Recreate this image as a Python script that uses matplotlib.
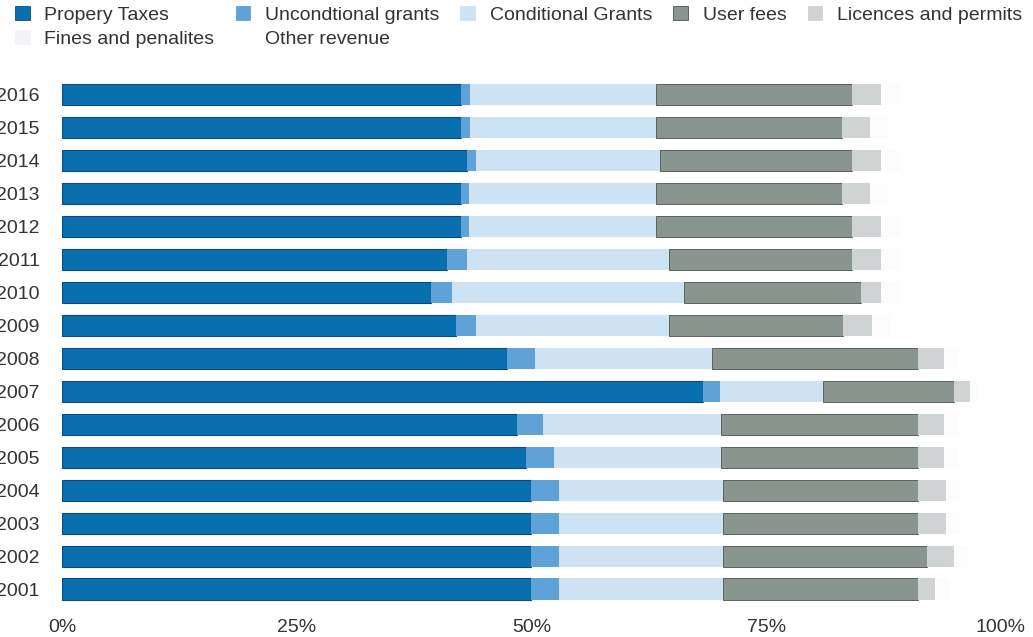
import matplotlib
matplotlib.use("Agg")
import matplotlib.pyplot as plt
from matplotlib.patches import Patch
import numpy as np

plt.rcParams["font.family"] = ["Liberation Sans", "DejaVu Sans"]

YEARS = ["2001", "2002", "2003", "2004", "2005", "2006", "2007", "2008",
         "2009", "2010", "2011", "2012", "2013", "2014", "2015", "2016"]

# revenue shares in percent, one value per year (2001 -> 2016)
PROPERTY_TAXES = [49.9, 49.9, 49.9, 49.9, 49.4, 48.5, 68.3, 47.4,
                  42.0, 39.3, 41.0, 42.5, 42.5, 43.1, 42.5, 42.5]
UNCONDITIONAL = [3.0, 3.0, 3.0, 3.0, 3.0, 2.7, 1.8, 3.0,
                 2.1, 2.2, 2.1, 0.8, 0.8, 1.0, 0.9, 1.0]
CONDITIONAL = [17.5, 17.5, 17.5, 17.5, 17.8, 19.0, 10.9, 18.8,
               20.5, 24.7, 21.5, 20.0, 20.0, 19.6, 19.9, 19.8]
USER_FEES = [20.8, 21.7, 20.8, 20.8, 21.0, 21.0, 14.0, 22.0,
             18.6, 18.9, 19.5, 20.8, 19.8, 20.4, 19.8, 20.8]
LICENCES = [1.8, 2.9, 2.9, 2.9, 2.7, 2.7, 1.7, 2.7,
            3.1, 2.1, 3.1, 3.1, 2.9, 3.1, 2.9, 3.1]
FINES = [1.5, 1.5, 1.5, 1.5, 1.5, 1.5, 1.0, 1.5,
         2.0, 2.0, 2.0, 2.0, 2.0, 2.0, 2.0, 2.0]
OTHER = [5.5, 3.5, 4.4, 4.4, 4.6, 4.6, 2.3, 4.6,
         11.7, 10.8, 10.8, 10.8, 12.0, 10.8, 12.0, 10.8]

SERIES = [
    ("Propery Taxes", PROPERTY_TAXES, "#0a6fae", "#0b4a86", 0.8),
    ("Uncondtional grants", UNCONDITIONAL, "#5fa2d8", "none", 0),
    ("Conditional Grants", CONDITIONAL, "#cde2f3", "none", 0),
    ("User fees", USER_FEES, "#8b9590", "#4a524e", 0.6),
    ("Licences and permits", LICENCES, "#d0d3d4", "none", 0),
    ("Fines and penalites", FINES, "#fcfcfd", "none", 0),
    ("Other revenue", OTHER, "#ffffff", "none", 0),
]

fig = plt.figure(figsize=(10.33, 6.37), dpi=100)
ax = fig.add_axes([0.060, 0.0443, 0.909, 0.8377])

y = np.arange(len(YEARS))
left = np.zeros(len(YEARS))
for label, vals, color, edge, lw in SERIES:
    vals = np.array(vals)
    ax.barh(y, vals, left=left, height=0.64, color=color,
            edgecolor=edge, linewidth=lw, label=label)
    left += vals

ax.set_xlim(0, 100)
ax.set_ylim(-0.6, 15.6)
ax.set_yticks(y)
ax.set_yticklabels(YEARS, fontsize=14, color="#333333")
ax.set_xticks([0, 25, 50, 75, 100])
ax.set_xticklabels(["0%", "25%", "50%", "75%", "100%"], fontsize=14,
                   color="#333333")
ax.tick_params(axis="y", length=0, pad=16)
ax.tick_params(axis="x", length=0, pad=7)
for spine in ax.spines.values():
    spine.set_visible(False)

# legend laid out row by row: five on the first line, two on the second
legend_colors = {"Fines and penalites": "#f1f3f6"}
handles = {}
for label, _, color, edge, _ in SERIES:
    face = legend_colors.get(label, color)
    handles[label] = Patch(facecolor=face,
                           edgecolor=(edge if edge != "none" else face),
                           linewidth=0.6, label=label)
order = ["Propery Taxes", "Fines and penalites", "Uncondtional grants",
         "Other revenue", "Conditional Grants", "User fees",
         "Licences and permits"]
fig.legend(handles=[handles[k] for k in order], loc="upper left",
           bbox_to_anchor=(15 / 1033, 1 - 6 / 637), ncol=5, frameon=False,
           fontsize=14, handlelength=0.75, handleheight=0.75,
           handletextpad=0.75, columnspacing=1.1, labelspacing=0.32,
           borderpad=0, borderaxespad=0, labelcolor="#333333")

fig.savefig("out.png", dpi=100)
